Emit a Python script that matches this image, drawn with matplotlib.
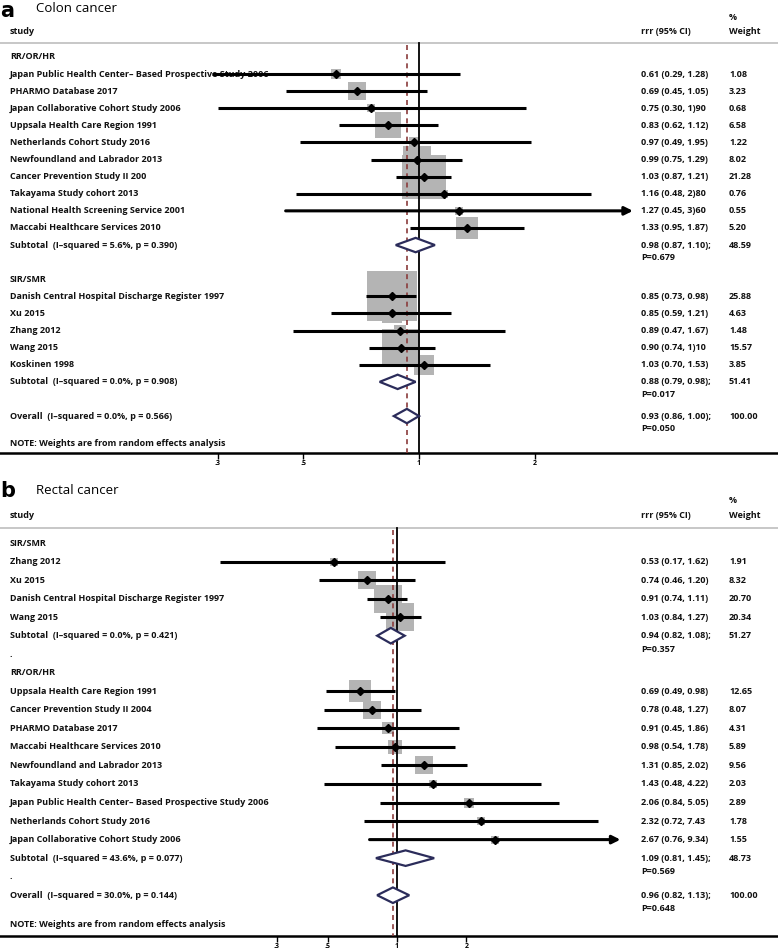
import numpy as np
import matplotlib
matplotlib.use("Agg")
import matplotlib.pyplot as plt
from matplotlib.transforms import blended_transform_factory
from matplotlib.patches import Polygon

plt.rcParams['font.family'] = ['Open Sans', 'DejaVu Sans']

# ---------------- panel a: colon cancer ----------------
a_rr_names = ["Japan Public Health Center\u2013 Based Prospective Study 2006",
              "PHARMO Database 2017",
              "Japan Collaborative Cohort Study 2006",
              "Uppsala Health Care Region 1991",
              "Netherlands Cohort Study 2016",
              "Newfoundland and Labrador 2013",
              "Cancer Prevention Study II 200",
              "Takayama Study cohort 2013",
              "National Health Screening Service 2001",
              "Maccabi Healthcare Services 2010"]
a_rr_est = [0.61, 0.69, 0.75, 0.83, 0.97, 0.99, 1.03, 1.16, 1.27, 1.33]
a_rr_lo = [0.29, 0.45, 0.30, 0.62, 0.49, 0.75, 0.87, 0.48, 0.45, 0.95]
a_rr_hi = [1.28, 1.05, 1.90, 1.12, 1.95, 1.29, 1.21, 2.80, 3.60, 1.87]
a_rr_wt = [1.08, 3.23, 0.68, 6.58, 1.22, 8.02, 21.28, 0.76, 0.55, 5.20]
a_rr_txt = ["0.61 (0.29, 1.28)", "0.69 (0.45, 1.05)", "0.75 (0.30, 1)90",
            "0.83 (0.62, 1.12)", "0.97 (0.49, 1.95)", "0.99 (0.75, 1.29)",
            "1.03 (0.87, 1.21)", "1.16 (0.48, 2)80", "1.27 (0.45, 3)60",
            "1.33 (0.95, 1.87)"]
a_rr_arrow = [False] * 8 + [True, False]
a_rr_sub = (0.98, 0.87, 1.10, 48.59, "Subtotal  (I\u2013squared = 5.6%, p = 0.390)",
            "0.98 (0.87, 1.10);", "P=0.679")

a_sir_names = ["Danish Central Hospital Discharge Register 1997", "Xu 2015",
               "Zhang 2012", "Wang 2015", "Koskinen 1998"]
a_sir_est = [0.85, 0.85, 0.89, 0.90, 1.03]
a_sir_lo = [0.73, 0.59, 0.47, 0.74, 0.70]
a_sir_hi = [0.98, 1.21, 1.67, 1.10, 1.53]
a_sir_wt = [25.88, 4.63, 1.48, 15.57, 3.85]
a_sir_txt = ["0.85 (0.73, 0.98)", "0.85 (0.59, 1.21)", "0.89 (0.47, 1.67)",
             "0.90 (0.74, 1)10", "1.03 (0.70, 1.53)"]
a_sir_arrow = [False] * 5
a_sir_sub = (0.88, 0.79, 0.98, 51.41, "Subtotal  (I\u2013squared = 0.0%, p = 0.908)",
             "0.88 (0.79, 0.98);", "P=0.017")

a_overall = (0.93, 0.86, 1.00, 100.00, "Overall  (I\u2013squared = 0.0%, p = 0.566)",
             "0.93 (0.86, 1.00);", "P=0.050")

# ---------------- panel b: rectal cancer ----------------
b_sir_names = ["Zhang 2012", "Xu 2015",
               "Danish Central Hospital Discharge Register 1997", "Wang 2015"]
b_sir_est = [0.53, 0.74, 0.91, 1.03]
b_sir_lo = [0.17, 0.46, 0.74, 0.84]
b_sir_hi = [1.62, 1.20, 1.11, 1.27]
b_sir_wt = [1.91, 8.32, 20.70, 20.34]
b_sir_txt = ["0.53 (0.17, 1.62)", "0.74 (0.46, 1.20)", "0.91 (0.74, 1.11)",
             "1.03 (0.84, 1.27)"]
b_sir_arrow = [False] * 4
b_sir_sub = (0.94, 0.82, 1.08, 51.27, "Subtotal  (I\u2013squared = 0.0%, p = 0.421)",
             "0.94 (0.82, 1.08);", "P=0.357")

b_rr_names = ["Uppsala Health Care Region 1991",
              "Cancer Prevention Study II 2004",
              "PHARMO Database 2017",
              "Maccabi Healthcare Services 2010",
              "Newfoundland and Labrador 2013",
              "Takayama Study cohort 2013",
              "Japan Public Health Center\u2013 Based Prospective Study 2006",
              "Netherlands Cohort Study 2016",
              "Japan Collaborative Cohort Study 2006"]
b_rr_est = [0.69, 0.78, 0.91, 0.98, 1.31, 1.43, 2.06, 2.32, 2.67]
b_rr_lo = [0.49, 0.48, 0.45, 0.54, 0.85, 0.48, 0.84, 0.72, 0.76]
b_rr_hi = [0.98, 1.27, 1.86, 1.78, 2.02, 4.22, 5.05, 7.43, 9.34]
b_rr_wt = [12.65, 8.07, 4.31, 5.89, 9.56, 2.03, 2.89, 1.78, 1.55]
b_rr_txt = ["0.69 (0.49, 0.98)", "0.78 (0.48, 1.27)", "0.91 (0.45, 1.86)",
            "0.98 (0.54, 1.78)", "1.31 (0.85, 2.02)", "1.43 (0.48, 4.22)",
            "2.06 (0.84, 5.05)", "2.32 (0.72, 7.43", "2.67 (0.76, 9.34)"]
b_rr_arrow = [False] * 8 + [True]
b_rr_sub = (1.09, 0.81, 1.45, 48.73, "Subtotal  (I\u2013squared = 43.6%, p = 0.077)",
            "1.09 (0.81, 1.45);", "P=0.569")

b_overall = (0.96, 0.82, 1.13, 100.00, "Overall  (I\u2013squared = 30.0%, p = 0.144)",
             "0.96 (0.82, 1.13);", "P=0.648")

ticks = [0.3, 0.5, 1, 2]
tick_labels = [".3", ".5", "1", "2"]

BOX = "#b4b4b4"
DIAM = "#2b2c5a"
DASH = "#8a3b3b"
FS = 6.5
FW = "bold"


def forest(ax, letter, title, groups, gap_text, overall, xlim, ylim, box_k):
    ax.set_xscale("log")
    ax.set_xlim(xlim)
    ax.set_ylim(ylim)
    tr = blended_transform_factory(ax.transAxes, ax.transData)
    lab_x, ci_x, wt_x = 10 / 778, 641 / 778, 729 / 778

    def put(x, y, s):
        ax.text(x, y, s, transform=tr, fontsize=FS, va="center",
                fontweight=FW, color="#111111")

    # headers
    ax.text(0.0, ylim[1] + 0.05, letter, transform=tr, fontsize=15,
            fontweight="bold", va="top", ha="left", family="DejaVu Sans")
    ax.text(36 / 778, -2.85, title, transform=tr, fontsize=9.5, va="center")
    put(lab_x, -1.5, "study")
    put(ci_x, -1.5, "rrr (95% CI)")
    put(wt_x, -2.3, "%")
    put(wt_x, -1.5, "Weight")
    ax.axhline(-0.82, color="#bdbdbd", lw=1.2)

    def diamond(y, sub):
        est, lo, hi = sub[0], sub[1], sub[2]
        pts = [(lo, y), (est, y - 0.42), (hi, y), (est, y + 0.42)]
        ax.add_patch(Polygon(pts, closed=True, facecolor="white",
                             edgecolor=DIAM, lw=1.6, zorder=5))
        put(lab_x, y, sub[4])
        put(ci_x, y, sub[5])
        put(ci_x, y + 0.72, sub[6])
        put(wt_x, y, "%.2f" % sub[3])

    y = 0
    for head, names, est, lo, hi, wt, txt, arrow, sub in groups:
        put(lab_x, y, head)
        y += 1
        for i in range(len(names)):
            ax.scatter(est[i], y, marker="s", s=(box_k * np.sqrt(wt[i]) * 0.72) ** 2,
                       color=BOX, zorder=2, linewidths=0)
            if arrow[i]:
                ax.annotate("", xy=(hi[i], y), xytext=(lo[i], y),
                            arrowprops=dict(arrowstyle="-|>", color="black",
                                            lw=2.2, mutation_scale=12,
                                            shrinkA=0, shrinkB=0), zorder=4)
            else:
                ax.plot([lo[i], hi[i]], [y, y], color="black", lw=2.2,
                        solid_capstyle="butt", zorder=4)
            ax.plot(est[i], y, marker="D", ms=4.3, color="black", zorder=6)
            put(lab_x, y, names[i])
            put(ci_x, y, txt[i])
            put(wt_x, y, "%.2f" % wt[i])
            y += 1
        diamond(y, sub)
        y += 1
        put(lab_x, y, gap_text)
        y += 1
    diamond(y, overall)
    put(lab_x, y + 1.6, "NOTE: Weights are from random effects analysis")

    ax.plot([1, 1], [-0.82, ylim[0]], color="black", lw=1.3, zorder=3)
    ax.plot([overall[0], overall[0]], [-0.7, ylim[0]], color=DASH, lw=1.2,
            ls=(0, (3, 2.5)), zorder=3)

    for s in ["top", "left", "right"]:
        ax.spines[s].set_visible(False)
    ax.spines["bottom"].set_linewidth(1.8)
    ax.set_yticks([])
    ax.set_xticks(ticks)
    ax.set_xticklabels(tick_labels, fontweight="bold")
    ax.xaxis.set_minor_locator(matplotlib.ticker.NullLocator())
    ax.tick_params(axis="x", length=4, width=1, labelsize=5, pad=1)


fig = plt.figure(figsize=(7.78, 9.52), dpi=100)

# panel a spans pixel rows 0..453, panel b 480..936
ax_a = fig.add_axes([0, 1 - 453 / 952, 1, 453 / 952])
ax_b = fig.add_axes([0, 1 - 936 / 952, 1, (936 - 480) / 952])

groups_a = [("RR/OR/HR", a_rr_names, a_rr_est, a_rr_lo, a_rr_hi, a_rr_wt,
             a_rr_txt, a_rr_arrow, a_rr_sub),
            ("SIR/SMR", a_sir_names, a_sir_est, a_sir_lo, a_sir_hi, a_sir_wt,
             a_sir_txt, a_sir_arrow, a_sir_sub)]
groups_b = [("SIR/SMR", b_sir_names, b_sir_est, b_sir_lo, b_sir_hi, b_sir_wt,
             b_sir_txt, b_sir_arrow, b_sir_sub),
            ("RR/OR/HR", b_rr_names, b_rr_est, b_rr_lo, b_rr_hi, b_rr_wt,
             b_rr_txt, b_rr_arrow, b_rr_sub)]

forest(ax_a, "a", "Colon cancer", groups_a, "", a_overall,
       (np.exp(-419 / 167), np.exp(359 / 167)), (23.16, -3.33), 9.75)
forest(ax_b, "b", "Rectal cancer", groups_b, ".", b_overall,
       (np.exp(-397 / 100), np.exp(381 / 100)), (21.2, -3.40), 6.0)

fig.savefig("out.png", dpi=100)
